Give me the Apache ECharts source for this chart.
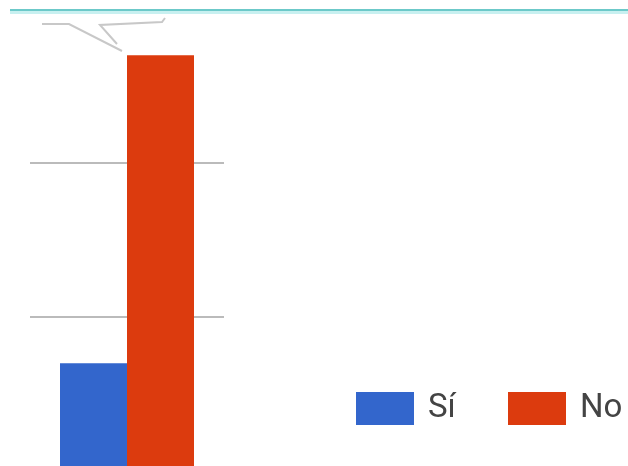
<!DOCTYPE html>
<html>
<head>
<meta charset="utf-8">
<script src="https://cdn.jsdelivr.net/npm/echarts@6/dist/echarts.min.js"></script>
<style>
  html, body { margin: 0; padding: 0; background: #fff; }
  #chart { width: 628px; height: 466px; }
</style>
</head>
<body>
<div id="chart"></div>
<script>
var categories = [""];
var seriesNames = ["Sí", "No"];
var siValues = [7];
var noValues = [27];
var yMax = 30;
var yInterval = 10;

var dom = document.getElementById("chart");
var myChart = echarts.init(dom, null, { renderer: "canvas" });

var legendText = {
  fontFamily: "Roboto",
  fontSize: 33,
  color: "#444",
  padding: [0, 0, 0, 9],
};

var option = {
  backgroundColor: "#fff",
  animation: false,
  grid: { left: 30, top: 9, width: 194, height: 462, outerBoundsMode: "none" },
  legend: [
    {
      data: [seriesNames[0]],
      left: 356,
      top: 392,
      padding: 0,
      icon: "rect",
      itemWidth: 58,
      itemHeight: 33,
      itemStyle: { borderWidth: 0 },
      textStyle: legendText,
    },
    {
      data: [seriesNames[1]],
      left: 508,
      top: 392,
      padding: 0,
      icon: "rect",
      itemWidth: 58,
      itemHeight: 33,
      itemStyle: { borderWidth: 0 },
      textStyle: legendText,
    },
  ],
  xAxis: {
    type: "category",
    data: categories,
    axisLine: { show: false },
    axisTick: { show: false },
    axisLabel: { show: false },
  },
  yAxis: {
    type: "value",
    min: 0,
    max: yMax,
    interval: yInterval,
    axisLine: { show: false },
    axisTick: { show: false },
    axisLabel: { show: false },
    splitLine: {
      lineStyle: { color: ["#bbb", "#bbb", "#bbb", "transparent"], width: 2 },
    },
  },
  series: [
    {
      name: seriesNames[0],
      type: "bar",
      data: siValues,
      barWidth: 67,
      barGap: "0%",
      itemStyle: { color: "#3366cc" },
    },
    {
      name: seriesNames[1],
      type: "bar",
      data: noValues,
      barWidth: 67,
      barGap: "0%",
      itemStyle: { color: "#dc3b0e" },
    },
  ],
  graphic: [
    {
      type: "rect",
      z: 100,
      shape: { x: 10, y: 9, width: 618, height: 2 },
      style: { fill: "#6cc9c9" },
    },
    {
      type: "rect",
      z: 100,
      shape: { x: 10, y: 11, width: 618, height: 3 },
      style: { fill: "#c8f0f0" },
    },
    {
      type: "polyline",
      z: 100,
      shape: { points: [[42, 24], [69, 24], [122, 51]] },
      style: { stroke: "#c8c8c8", lineWidth: 2, fill: null },
    },
    {
      type: "polyline",
      z: 100,
      shape: { points: [[117, 44], [100, 25], [162, 22], [165, 18]] },
      style: { stroke: "#c8c8c8", lineWidth: 2, fill: null },
    },
  ],
};

myChart.setOption(option);
window.addEventListener("resize", myChart.resize);
</script>
</body>
</html>
